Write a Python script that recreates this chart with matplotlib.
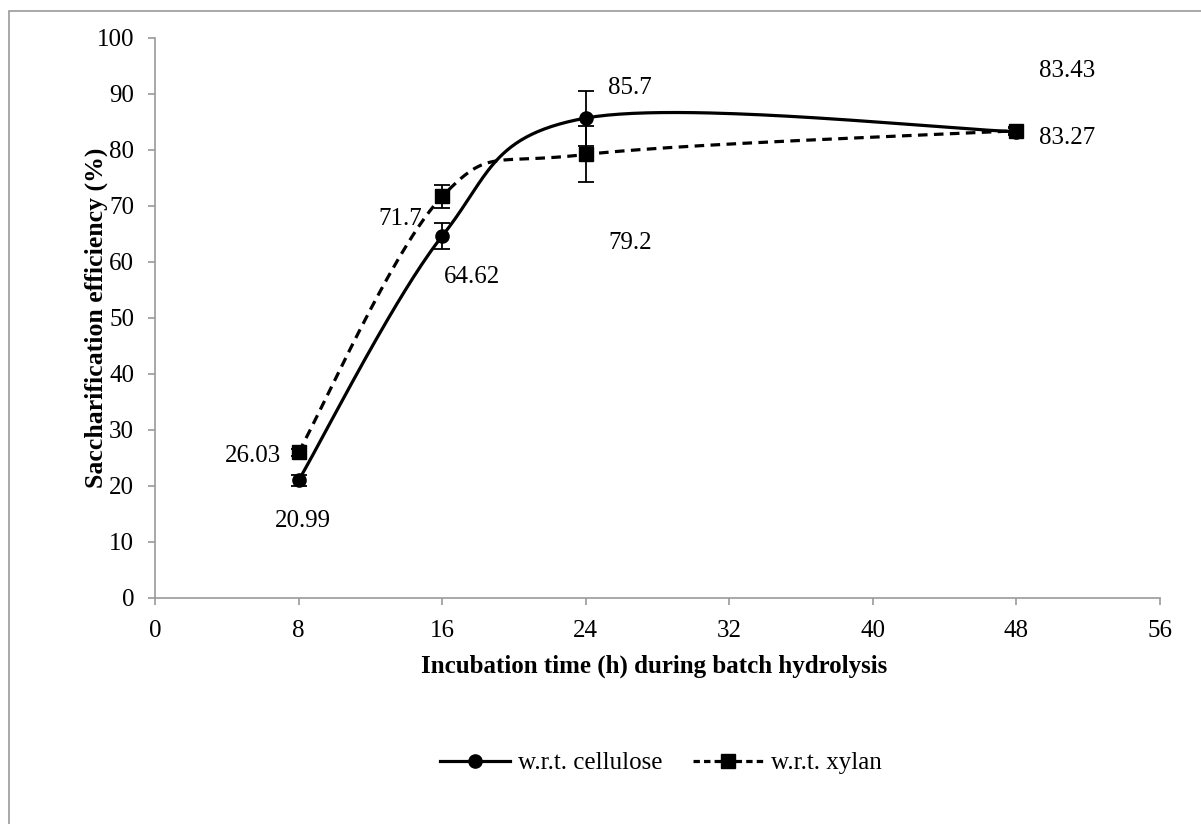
import numpy as np
import matplotlib
matplotlib.use("Agg")
import matplotlib.pyplot as plt
from matplotlib.lines import Line2D
from matplotlib.patches import Rectangle

# ---- data ----
hours = [8, 16, 24, 48]
cellulose = [20.99, 64.62, 85.7, 83.27]
cellulose_err = [1.0, 2.3, 4.9, 0.6]
xylan = [26.03, 71.7, 79.2, 83.43]
xylan_err = [0.6, 2.1, 5.0, 0.6]
cell_label_off = [(4, -41), (30, -41), (44, 30), (51, -6)]
xyl_label_off = [(-46, -4), (-42, -23), (44, -89), (51, 60)]
x_ticks = [0, 8, 16, 24, 32, 40, 48, 56]
y_ticks = list(range(0, 101, 10))

plt.rcParams['font.family'] = ['Liberation Serif', 'DejaVu Serif']
FS = 18

def smooth(xs, ys, n=60):
    P = np.column_stack([xs, ys]).astype(float)
    Pext = np.vstack([P[0], P, P[-1]])
    out = []
    for i in range(len(P) - 1):
        p0, p1, p2, p3 = Pext[i], Pext[i + 1], Pext[i + 2], Pext[i + 3]
        c1 = p1 + (p2 - p0) / 6.0
        c2 = p2 - (p3 - p1) / 6.0
        t = np.linspace(0, 1, n)[:, None]
        seg = ((1 - t) ** 3) * p1 + 3 * ((1 - t) ** 2) * t * c1 + 3 * (1 - t) * t ** 2 * c2 + t ** 3 * p2
        out.append(seg if i == 0 else seg[1:])
    S = np.vstack(out)
    return S[:, 0], S[:, 1]

fig = plt.figure(figsize=(12.01, 8.24), dpi=100)
fig.patches.append(Rectangle((9 / 1201, -0.1), 1.2, 1 - 11 / 824 + 0.1, transform=fig.transFigure,
                             fill=False, edgecolor='#9a9a9a', linewidth=1.2, zorder=0))
ax = fig.add_axes([155 / 1201, 1 - 598 / 824, (1160 - 155) / 1201, (598 - 38) / 824])

lw = 2.3
sx, sy = smooth(hours, cellulose)
ax.plot(sx, sy, color='black', lw=lw, solid_capstyle='butt', zorder=3)
sx2, sy2 = smooth(hours, xylan)
ax.plot(sx2, sy2, color='black', lw=lw, dashes=(3, 2), zorder=3)

ax.errorbar(hours, cellulose, yerr=cellulose_err, fmt='o', color='black', ms=9.5,
            ecolor='black', elinewidth=1.3, capsize=6, capthick=1.3, zorder=4)
ax.errorbar(hours, xylan, yerr=xylan_err, fmt='s', color='black', ms=9.5,
            ecolor='black', elinewidth=1.3, capsize=6, capthick=1.3, zorder=4)

for x, y, off in zip(hours, cellulose, cell_label_off):
    ax.annotate(f"{y:g}", (x, y), xytext=off, textcoords='offset pixels',
                ha='center', va='center', fontsize=FS)
for x, y, off in zip(hours, xylan, xyl_label_off):
    ax.annotate(f"{y:g}", (x, y), xytext=off, textcoords='offset pixels',
                ha='center', va='center', fontsize=FS)

ax.set_xlim(0, 56)
ax.set_ylim(0, 100)
ax.set_xticks(x_ticks)
ax.set_yticks(y_ticks)
ax.tick_params(axis='both', labelsize=FS, color='#9a9a9a', length=5, width=1.2, direction='out')
ax.tick_params(axis='y', pad=10)
ax.tick_params(axis='x', pad=11)
for s in ['top', 'right']:
    ax.spines[s].set_visible(False)
for s in ['left', 'bottom']:
    ax.spines[s].set_color('#9a9a9a')
    ax.spines[s].set_linewidth(1.2)

fig.text(0.5 * (155 + 1160) / 1201 - 0.003, 1 - 666 / 824, 'Incubation time (h) during batch hydrolysis',
         ha='center', va='center', fontsize=FS, fontweight='bold')
fig.text(96 / 1201, 1 - 318 / 824, 'Saccharification efficiency (%)', rotation=90,
         ha='center', va='center', fontsize=FS + 0.5, fontweight='bold')

handles = [Line2D([], [], color='black', lw=lw, marker='o', ms=9.5),
           Line2D([], [], color='black', lw=lw, dashes=(2, 1.3), marker='s', ms=9.5)]
fig.legend(handles, ['w.r.t. cellulose', 'w.r.t. xylan'], loc='center left',
           bbox_to_anchor=(440 / 1201, 1 - 763 / 824), ncol=2, frameon=False, borderpad=0,
           borderaxespad=0, fontsize=FS, handlelength=2.8, columnspacing=1.25, handletextpad=0.3)

fig.savefig('out.png', dpi=100)
